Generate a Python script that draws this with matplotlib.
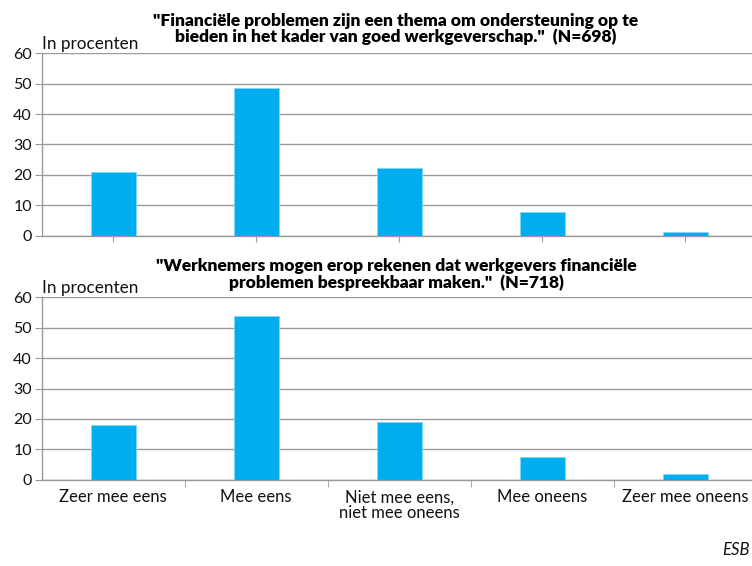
import matplotlib
matplotlib.use("Agg")
import matplotlib.pyplot as plt
import numpy as np

categories = ["Zeer mee eens", "Mee eens", "Niet mee eens,\nniet mee oneens", "Mee oneens", "Zeer mee oneens"]
values_top = [20.8, 48.5, 22.2, 7.8, 1.2]
values_bottom = [18.0, 53.9, 19.1, 7.6, 1.9]
title_top = "\"Financiële problemen zijn een thema om ondersteuning op te\nbieden in het kader van goed werkgeverschap.\"  (N=698)"
title_bottom = "\"Werknemers mogen erop rekenen dat werkgevers financiële\nproblemen bespreekbaar maken.\"  (N=718)"
yticks = [0, 10, 20, 30, 40, 50, 60]

W, H = 752, 566
fig = plt.figure(figsize=(W/100, H/100), dpi=100)
plt.rcParams['font.family'] = ['Lato', 'DejaVu Sans']

bar_color = "#00AEEF"
grid_color = "#9a9a9a"
text_color = "#111111"

def make_axes(bottom_px, values, bottom_ticks):
    left_px = 41.7
    width_px = 715
    height_px = 182.4
    ax = fig.add_axes([left_px/W, (H-bottom_px)/H, width_px/W, height_px/H])
    x = np.arange(len(values))
    ax.bar(x, values, width=0.315, color=bar_color, edgecolor="#7fd6f7", linewidth=0.6, zorder=3)
    ax.set_xlim(-0.5, len(values)-0.5)
    ax.set_ylim(0, 60)
    ax.set_yticks(yticks)
    ax.set_yticklabels([str(v) for v in yticks], fontsize=11.5)
    ax.yaxis.grid(True, color=grid_color, linewidth=1.0, zorder=0)
    for s in ["top", "right"]:
        ax.spines[s].set_visible(False)
    ax.spines["left"].set_color(grid_color)
    ax.spines["bottom"].set_color(grid_color)
    ax.spines["left"].set_linewidth(1.0)
    ax.spines["bottom"].set_linewidth(1.0)
    ax.tick_params(axis="y", length=5, color=grid_color, pad=2, labelcolor=text_color)
    if bottom_ticks:
        ax.set_xticks(x)
        ax.set_xticklabels(categories, fontsize=12, color=text_color, linespacing=1.0)
        ax.tick_params(axis="x", which="major", length=0, pad=7)
        ax.set_xticks(np.arange(0.5, len(values)-0.5, 1.0), minor=True)
        ax.tick_params(axis="x", which="minor", length=5, color=grid_color)
    else:
        ax.set_xticks(x)
        ax.set_xticklabels([])
        ax.tick_params(axis="x", length=4, color=grid_color)
    ax.text(0.0, 1.005, "In procenten", transform=ax.transAxes, ha="left", va="bottom",
            fontsize=12.3, color=text_color)
    return ax

ax1 = make_axes(235.7, values_top, False)
ax2 = make_axes(479.7, values_bottom, True)

fig.text(396/W, 1 - 29/H, title_top, ha="center", va="center", fontsize=12.5,
         fontweight="heavy", linespacing=0.98, color="#000000")
fig.text(396/W, 1 - 274.5/H, title_bottom, ha="center", va="center", fontsize=12.5,
         fontweight="heavy", linespacing=0.98, color="#000000")
fig.text(722/W, 1 - 550/H, "ESB", ha="left", va="center", fontsize=12, style="italic", color=text_color)

fig.savefig("out.png", dpi=100)
